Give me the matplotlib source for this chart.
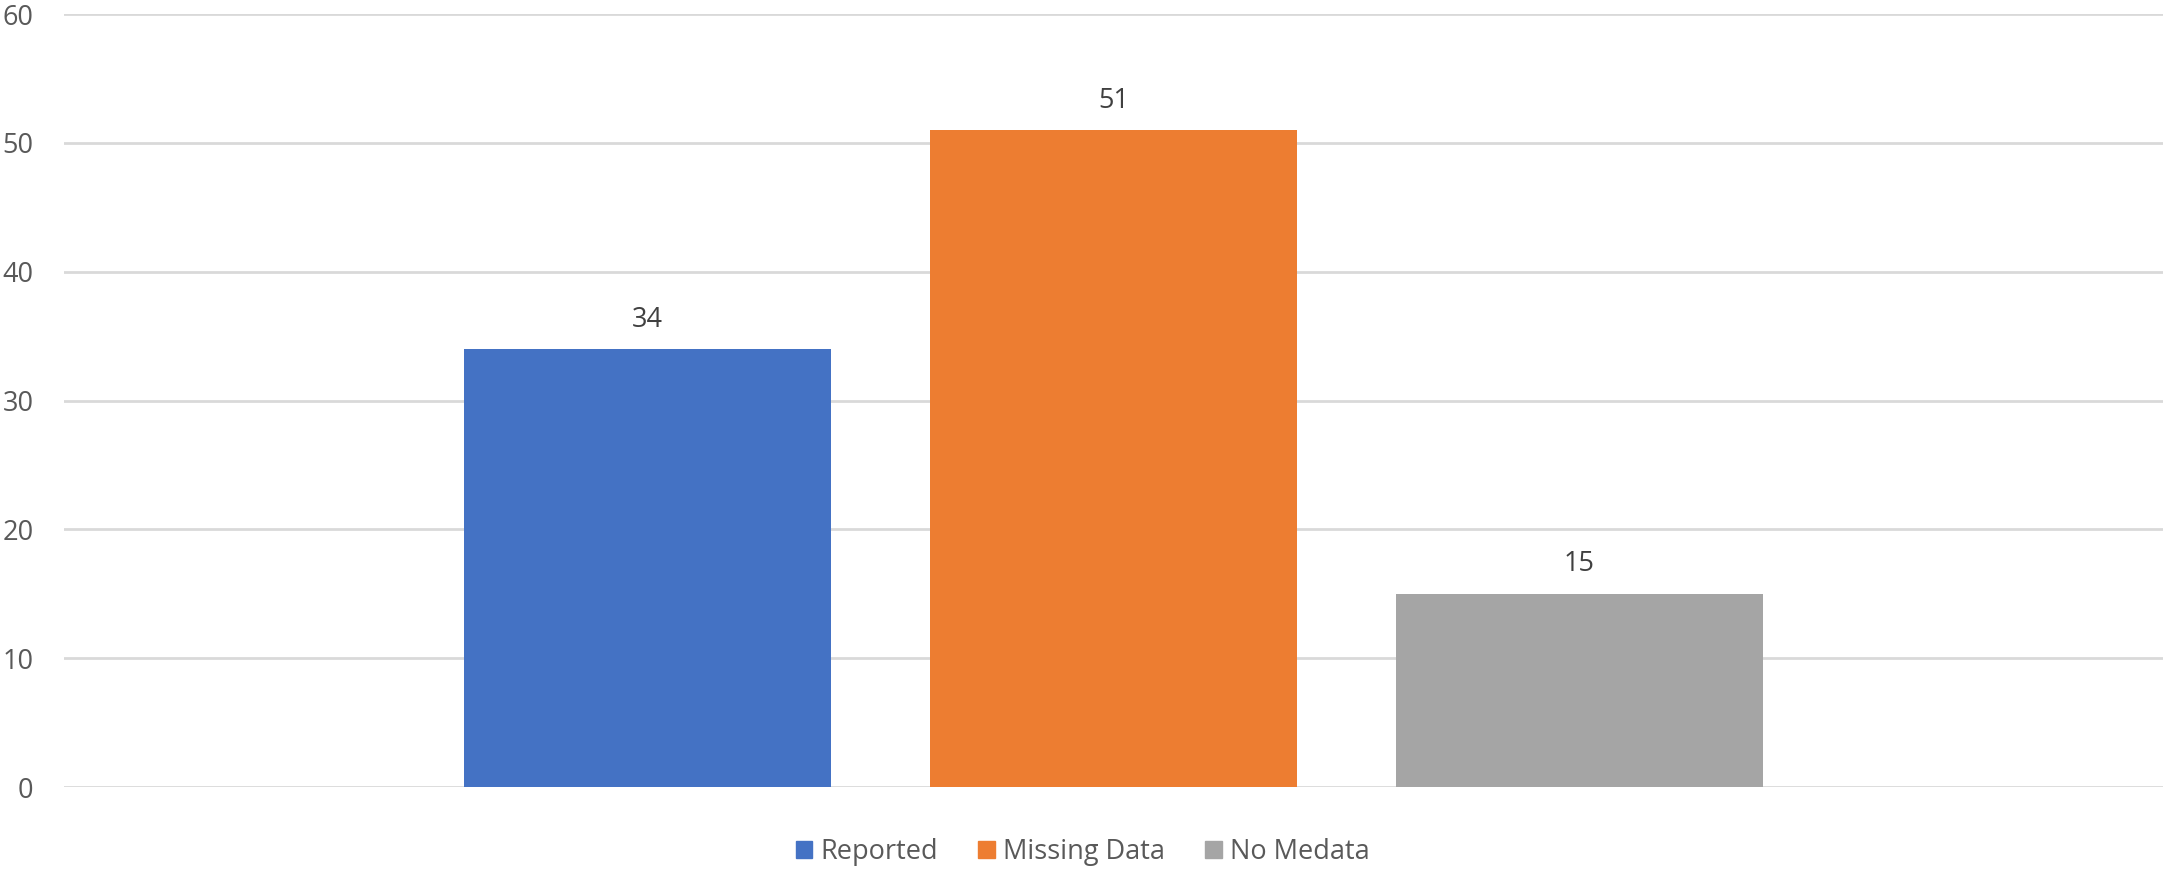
import matplotlib.pyplot as plt
from matplotlib.patches import Patch

series = ["Reported", "Missing Data", "No Medata"]
values = [34, 51, 15]
colors = ["#4472C4", "#ED7D31", "#A5A5A5"]
yticks = [0, 10, 20, 30, 40, 50, 60]

W, H, DPI = 2165, 872, 100
TEXT = "#595959"
plt.rcParams["font.family"] = ["Open Sans", "DejaVu Sans"]

fig = plt.figure(figsize=(W / DPI, H / DPI), dpi=DPI)
ax = fig.add_axes([64 / W, 1 - 787 / H, (2163 - 64) / W, (787 - 14) / H])

step, width = 0.222, 0.175
offsets = [(i - (len(series) - 1) / 2) * step for i in range(len(series))]
for off, val, col, name in zip(offsets, values, colors, series):
    ax.bar(off, val, width=width, color=col, label=name, zorder=3)
    ax.annotate(str(val), (off, val), xytext=(0, 11), textcoords="offset points",
                ha="center", va="bottom", fontsize=19.5, color="#404040")

ax.set_xlim(-0.5, 0.5)
ax.set_ylim(0, 60)
ax.set_yticks(yticks)
ax.set_xticks([])
ax.tick_params(axis="y", length=0, pad=22, labelsize=19.5, labelcolor=TEXT)
ax.grid(axis="y", color="#D9D9D9", lw=2, zorder=0)
for s in ax.spines.values():
    s.set_visible(False)

handles = [Patch(color=c, label=n) for c, n in zip(colors, series)]
fig.legend(handles=handles, loc="center", bbox_to_anchor=(0.5, 1 - 852 / H), ncol=3,
           frameon=False, fontsize=19.5, labelcolor=TEXT, handlelength=0.6,
           handleheight=0.6, handletextpad=0.3, columnspacing=1.5)

fig.savefig("out.png", dpi=DPI)
